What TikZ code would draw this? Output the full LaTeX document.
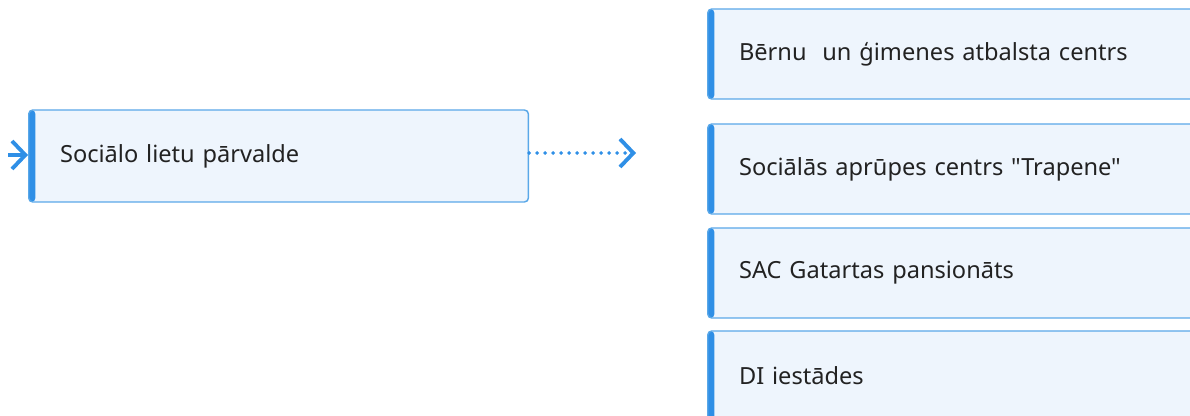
\documentclass[tikz,border=0pt]{standalone}
\usepackage{fontspec}
\newfontfamily\bodyfont{Noto Sans}
\usetikzlibrary{arrows.meta}
\definecolor{accent}{HTML}{2F8FE6}
\definecolor{edge}{HTML}{5AA8E8}
\definecolor{boxfill}{HTML}{EEF5FD}
\definecolor{ink}{HTML}{222222}
\tikzset{
  orgbox/.style={draw=edge, line width=1.1pt, fill=boxfill, rounded corners=3pt,
    minimum height=67.5pt, inner xsep=23.5pt, inner ysep=0pt, align=left,
    font=\bodyfont\fontsize{17.7}{20}\selectfont, text=ink, anchor=west,
    path picture={\fill[accent] (path picture bounding box.north west) rectangle ([xshift=5pt]path picture bounding box.south west);}},
  flow/.style={draw=accent, line width=2.9pt},
  chev/.style={-{Straight Barb[length=10pt,width=21pt,line width=2.9pt]}},
}
\begin{document}
\begin{tikzpicture}[x=0.75pt,y=-0.75pt]
\useasboundingbox (0,0) rectangle (1190,416);
\clip (0,0) rectangle (1190,416);
\node[orgbox, minimum height=69pt, text width=327.75pt] (main) at (28,156) {Sociālo lietu pārvalde};
\node[orgbox, text width=440pt] (b1) at (707,54) {Bērnu\ \ un ģimenes atbalsta centrs};
\node[orgbox, text width=440pt] (b2) at (707,169) {Sociālās aprūpes centrs "Trapene"};
\node[orgbox, text width=440pt] (b3) at (707,273) {SAC Gatartas pansionāts};
\node[orgbox, text width=440pt] (b4) at (707,376) {DI iestādes};
\coordinate (in) at (8,155);
\coordinate (out) at (636,153);
\draw[flow, chev] (in) -- ([yshift=0.75pt]main.west);
\draw[flow, chev, line cap=round, dash pattern=on 0pt off 6pt] ([yshift=2.25pt]main.east) -- (out);
\end{tikzpicture}
\end{document}
